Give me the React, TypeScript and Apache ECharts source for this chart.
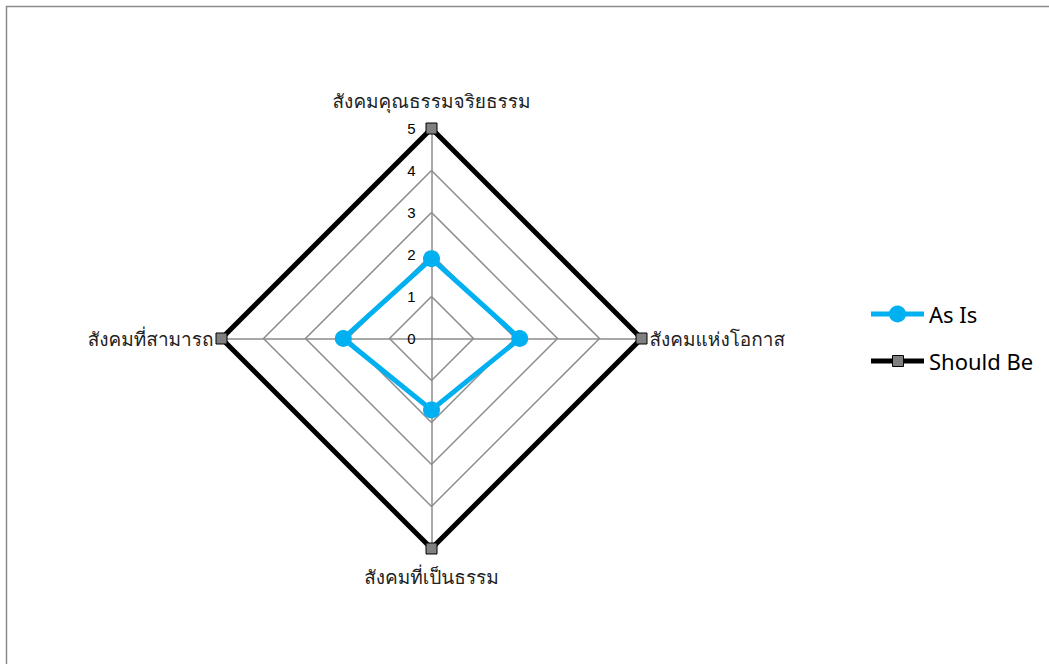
import React, { useEffect, useRef } from "react";
import * as echarts from "echarts";

const indicatorNames = ["สังคมคุณธรรมจริยธรรม", "สังคมที่สามารถ", "สังคมที่เป็นธรรม", "สังคมแห่งโอกาส"];
const axisMax = 5;
const asIsValues = [1.9, 2.1, 1.7, 2.1];
const shouldBeValues = [5, 5, 5, 5];
const seriesNames = ["As Is", "Should Be"];

const THAI_FONT = "Loma, Garuda, Tahoma, 'Noto Sans Thai', 'Noto Sans', 'DejaVu Sans', sans-serif";
const LEGEND_FONT = "'Noto Sans', Calibri, sans-serif";

const valueLabelStyle = {
  show: true,
  color: "#000",
  fontSize: 15,
  margin: 16,
  fontFamily: "'Liberation Sans', Arial, sans-serif",
};

export default function App() {
  const ref = useRef<HTMLDivElement>(null);
  useEffect(() => {
    if (!ref.current) return;
    const chart = echarts.init(ref.current, undefined, { renderer: "svg" });
    const option: any = {
      animation: false,
      backgroundColor: "#ffffff",
      graphic: [
        {
          type: "rect",
          silent: true,
          z: -10,
          shape: { x: 6.5, y: 6.5, width: 1200, height: 800 },
          style: { fill: "none", stroke: "#8a8a8a", lineWidth: 1.5 },
        },
      ],
      radar: {
        center: [431.5, 338.5],
        radius: 210,
        startAngle: 90,
        splitNumber: 5,
        shape: "polygon",
        indicator: indicatorNames.map((n, i) => ({
          name: n,
          min: 0,
          max: axisMax,
          ...(i === 0 ? { axisLabel: valueLabelStyle } : {}),
        })),
        axisName: { color: "#222", fontSize: 19, lineHeight: 40, fontFamily: THAI_FONT },
        nameGap: 8,
        axisLine: { lineStyle: { color: "#8c8c8c", width: 1.5 } },
        splitLine: { lineStyle: { color: "#8c8c8c", width: 1.5 } },
        splitArea: { show: false },
        axisTick: { show: false },
        axisLabel: { ...valueLabelStyle, show: false },
      },
      legend: [
        {
          orient: "vertical",
          left: 866,
          top: 297,
          itemWidth: 53,
          itemHeight: 5,
          itemGap: 23,
          selectedMode: false,
          textStyle: { fontSize: 22, lineHeight: 24, color: "#000", fontFamily: LEGEND_FONT },
          data: [
            { name: seriesNames[0], icon: "path://M0,0H55V5H0Z", itemStyle: { color: "#00B0F0", borderWidth: 0 } },
            { name: seriesNames[1], icon: "path://M0,0H55V5H0Z", itemStyle: { color: "#000000", borderWidth: 0 } },
          ],
        },
        {
          orient: "vertical",
          left: 884,
          top: 300.5,
          itemWidth: 17,
          itemHeight: 17,
          selectedMode: false,
          formatter: () => "",
          data: [{ name: seriesNames[0], icon: "circle", itemStyle: { color: "#00B0F0", borderWidth: 0 } }],
        },
        {
          orient: "vertical",
          left: 887,
          top: 350,
          itemWidth: 11,
          itemHeight: 11,
          selectedMode: false,
          formatter: () => "",
          data: [
            {
              name: seriesNames[1],
              icon: "rect",
              itemStyle: { color: "#808080", borderColor: "#000", borderWidth: 1 },
            },
          ],
        },
      ],
      series: [
        {
          type: "radar",
          name: seriesNames[1],
          z: 2,
          symbol: "rect",
          symbolSize: 11,
          lineStyle: { color: "#000", width: 5 },
          itemStyle: { color: "#808080", borderColor: "#000", borderWidth: 1 },
          data: [{ name: seriesNames[1], value: shouldBeValues }],
        },
        {
          type: "radar",
          name: seriesNames[0],
          z: 3,
          symbol: "circle",
          symbolSize: 17,
          lineStyle: { color: "#00B0F0", width: 5 },
          itemStyle: { color: "#00B0F0" },
          data: [{ name: seriesNames[0], value: asIsValues }],
        },
      ],
    };
    chart.setOption(option);
    return () => chart.dispose();
  }, []);
  return (
    <div
      ref={ref}
      style={{ position: "absolute", left: 0, top: 0, width: 1049, height: 664 }}
    />
  );
}
